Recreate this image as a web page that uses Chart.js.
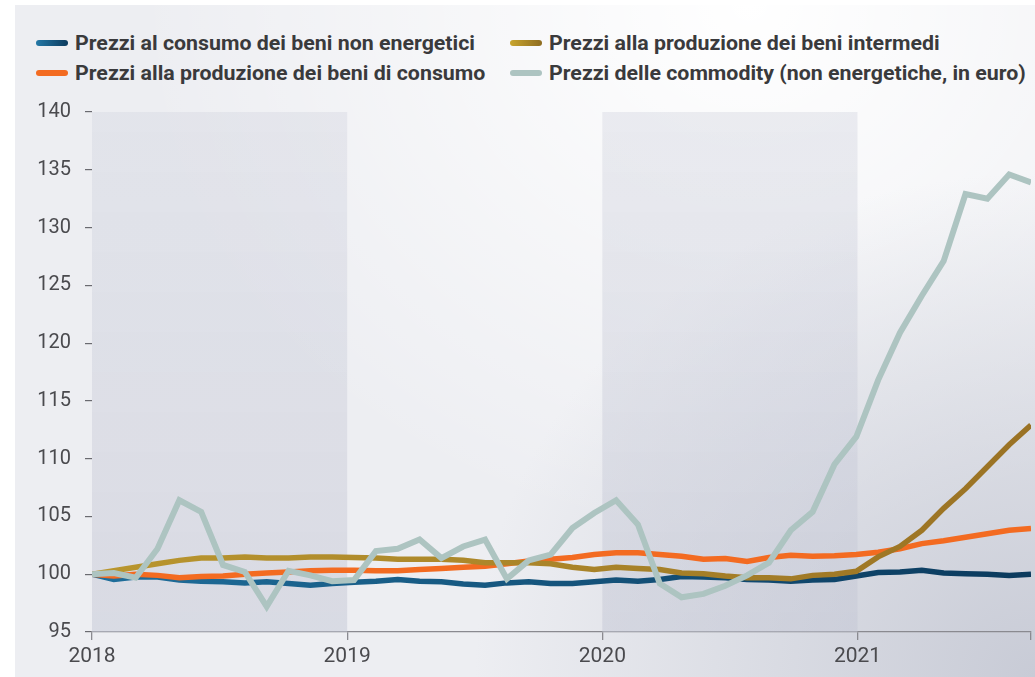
<!DOCTYPE html>
<html><head><meta charset="utf-8">
<script src="https://cdn.jsdelivr.net/npm/chart.js@4.4.1/dist/chart.umd.min.js"></script>
<style>
html,body{margin:0;padding:0;width:1035px;height:677px;overflow:hidden;background:#fff;}
#panel{position:absolute;left:15px;top:5px;width:1020px;height:672px;
 background:
  radial-gradient(ellipse 55% 75% at 100% 100%, rgba(200,203,214,1) 0%, rgba(200,203,214,0) 100%),
  radial-gradient(ellipse 60% 80% at 72% 0%, #ffffff 0%, rgba(255,255,255,0) 100%),
  #edeef2;}
#wrap{position:absolute;left:0;top:0;width:1035px;height:677px;}
.item{position:absolute;display:flex;align-items:center;height:24px;font-family:Roboto,'Liberation Sans',sans-serif;font-weight:bold;font-size:21px;color:#3a3a3c;white-space:nowrap;}
.sw{width:32px;height:6px;border-radius:3px;margin-right:7px;flex:none;}
.tx{display:inline-block;transform-origin:0 50%;}
</style></head>
<body>
<div id="panel"></div>
<div id="legend"></div>
<div id="wrap"><canvas id="c" width="1035" height="677"></canvas></div>
<script>
const months = ['2018-01','2018-02','2018-03','2018-04','2018-05','2018-06','2018-07','2018-08','2018-09','2018-10','2018-11','2018-12',
'2019-01','2019-02','2019-03','2019-04','2019-05','2019-06','2019-07','2019-08','2019-09','2019-10','2019-11','2019-12',
'2020-01','2020-02','2020-03','2020-04','2020-05','2020-06','2020-07','2020-08','2020-09','2020-10','2020-11','2020-12',
'2021-01','2021-02','2021-03','2021-04','2021-05','2021-06','2021-07','2021-08'];

const consumoNonEnergetici = [100.0,99.55,99.75,99.75,99.5,99.4,99.35,99.25,99.35,99.2,99.05,99.2,
99.3,99.4,99.55,99.4,99.35,99.15,99.05,99.25,99.35,99.2,99.2,99.35,
99.5,99.4,99.55,99.8,99.75,99.7,99.55,99.5,99.4,99.5,99.55,99.85,
100.15,100.2,100.35,100.1,100.05,100.0,99.9,100.0];

const produzioneIntermedi = [100.0,100.3,100.6,100.9,101.2,101.4,101.4,101.5,101.4,101.4,101.5,101.5,
101.45,101.4,101.3,101.3,101.3,101.2,101.0,101.0,101.0,100.9,100.6,100.4,
100.6,100.5,100.4,100.1,100.05,99.85,99.7,99.7,99.6,99.9,100.0,100.25,
101.5,102.4,103.8,105.7,107.4,109.3,111.2,112.9];

const produzioneConsumo = [100.0,99.85,100.0,99.9,99.7,99.8,99.85,100.0,100.1,100.2,100.3,100.35,
100.35,100.3,100.3,100.4,100.5,100.6,100.7,100.9,101.15,101.3,101.45,101.7,
101.85,101.85,101.7,101.55,101.3,101.35,101.1,101.45,101.65,101.55,101.6,101.7,
101.9,102.2,102.65,102.9,103.2,103.5,103.8,103.95];

const commodity = [100.0,100.1,99.7,102.2,106.4,105.4,100.8,100.2,97.2,100.3,99.9,99.4,
99.5,102.0,102.2,103.0,101.4,102.4,103.0,99.6,101.2,101.7,104.0,105.3,
106.4,104.3,99.2,98.0,98.3,99.0,99.9,101.0,103.8,105.4,109.5,111.9,
116.8,120.9,124.1,127.1,132.9,132.5,134.6,133.9];

const seriesNames = [
  'Prezzi al consumo dei beni non energetici',
  'Prezzi alla produzione dei beni intermedi',
  'Prezzi alla produzione dei beni di consumo',
  'Prezzi delle commodity (non energetiche, in euro)'
];
const yearLabels = ['2018','2019','2020','2021'];
const yTicks = [95,100,105,110,115,120,125,130,135,140];
const shadedYears = ['2018','2020'];

const AXIS_YEARS = 3.68;               // span of the x axis, in years
const lastIdx = months.length - 1;
const perYear = lastIdx / AXIS_YEARS;  // index units per year

// legend (HTML, real text), condensed horizontally to mimic the narrow bold face
const LEGEND_FIRST_WIDTH = 400;
const legendCfg = [
  {name: seriesNames[0], grad: 'linear-gradient(90deg,#2478a6,#0c3b5e)', left: 36, top: 31},
  {name: seriesNames[1], grad: 'linear-gradient(90deg,#c8a52e,#8e6c20)', left: 510, top: 31},
  {name: seriesNames[2], grad: '#f36b21', left: 36, top: 61},
  {name: seriesNames[3], grad: '#adc4c1', left: 510, top: 61}
];
const lg = document.getElementById('legend');
const spans = [];
legendCfg.forEach(it => {
  const d = document.createElement('div');
  d.className = 'item';
  d.style.left = it.left + 'px'; d.style.top = it.top + 'px';
  d.innerHTML = '<span class="sw" style="background:' + it.grad + '"></span><span class="tx">' + it.name + '</span>';
  lg.appendChild(d);
  spans.push(d.querySelector('.tx'));
});
const sc = LEGEND_FIRST_WIDTH / spans[0].getBoundingClientRect().width;
spans.forEach(s => { s.style.transform = 'scaleX(' + sc.toFixed(4) + ')'; });

function hGrad(c1, c2) {
  let cache = null, key = '';
  return (ctx) => {
    const ch = ctx.chart; const a = ch.chartArea;
    if (!a) return c1;
    const k = a.left + ',' + a.right;
    if (!cache || key !== k) {
      cache = ch.ctx.createLinearGradient(a.left, 0, a.right, 0);
      cache.addColorStop(0, c1); cache.addColorStop(1, c2); key = k;
    }
    return cache;
  };
}

const toPts = arr => arr.map((v, i) => ({x: i, y: v}));

const bandPlugin = {
  id: 'bands',
  beforeDatasetsDraw(chart) {
    const {ctx, chartArea: a, scales: {x}} = chart;
    ctx.save();
    shadedYears.forEach(y => {
      const k = yearLabels.indexOf(y);
      const x0 = x.getPixelForValue(k * perYear);
      const x1 = x.getPixelForValue((k + 1) * perYear);
      const g = ctx.createLinearGradient(0, a.top, 0, a.bottom);
      g.addColorStop(0, 'rgba(214,216,226,0.45)');
      g.addColorStop(1, 'rgba(196,199,213,0.5)');
      ctx.fillStyle = g;
      ctx.fillRect(x0, a.top, x1 - x0, a.bottom - a.top);
    });
    ctx.restore();
  }
};

const FONT = "Roboto,'Liberation Sans',sans-serif";

new Chart(document.getElementById('c'), {
  type: 'line',
  data: {
    datasets: [
      {label: seriesNames[0], data: toPts(consumoNonEnergetici), borderColor: hGrad('#1f6e9b', '#0b3a5d'), borderWidth: 5.5, order: 3},
      {label: seriesNames[1], data: toPts(produzioneIntermedi), borderColor: hGrad('#b9962e', '#9a7224'), borderWidth: 5.5, order: 1},
      {label: seriesNames[2], data: toPts(produzioneConsumo), borderColor: '#f36b21', borderWidth: 5.5, order: 2},
      {label: seriesNames[3], data: toPts(commodity), borderColor: '#adc4c1', borderWidth: 6, order: 0}
    ]
  },
  options: {
    responsive: false,
    animation: false,
    events: [],
    layout: {padding: {top: 112, right: 2, bottom: 0, left: 0}},
    elements: {point: {radius: 0}, line: {tension: 0, fill: false, borderJoinStyle: 'miter'}},
    plugins: {legend: {display: false}, tooltip: {enabled: false}},
    scales: {
      x: {
        type: 'linear', min: 0, max: lastIdx,
        afterBuildTicks: s => { s.ticks = yearLabels.map((l, k) => ({value: k * perYear})).concat([{value: lastIdx}]); },
        afterFit: s => { s.height = 45; },
        ticks: {
          autoSkip: false, maxRotation: 0, padding: 4,
          color: '#4a4a4e', font: {family: FONT, size: 21},
          callback: (v, i) => yearLabels[i] !== undefined ? yearLabels[i] : ''
        },
        grid: {drawOnChartArea: false, drawTicks: true, tickLength: 8, color: '#8a8a90', lineWidth: 1.3},
        border: {display: true, color: '#8a8a90', width: 1.3}
      },
      y: {
        min: 95, max: 140,
        afterBuildTicks: s => { s.ticks = yTicks.map(v => ({value: v})); },
        afterFit: s => { s.width = 92; },
        ticks: {padding: 14, color: '#4a4a4e', font: {family: FONT, size: 20}},
        grid: {drawOnChartArea: false, drawTicks: true, tickLength: 7, color: '#6a6a70', lineWidth: 1.2},
        border: {display: false}
      }
    }
  },
  plugins: [bandPlugin]
});
</script>
</body></html>
